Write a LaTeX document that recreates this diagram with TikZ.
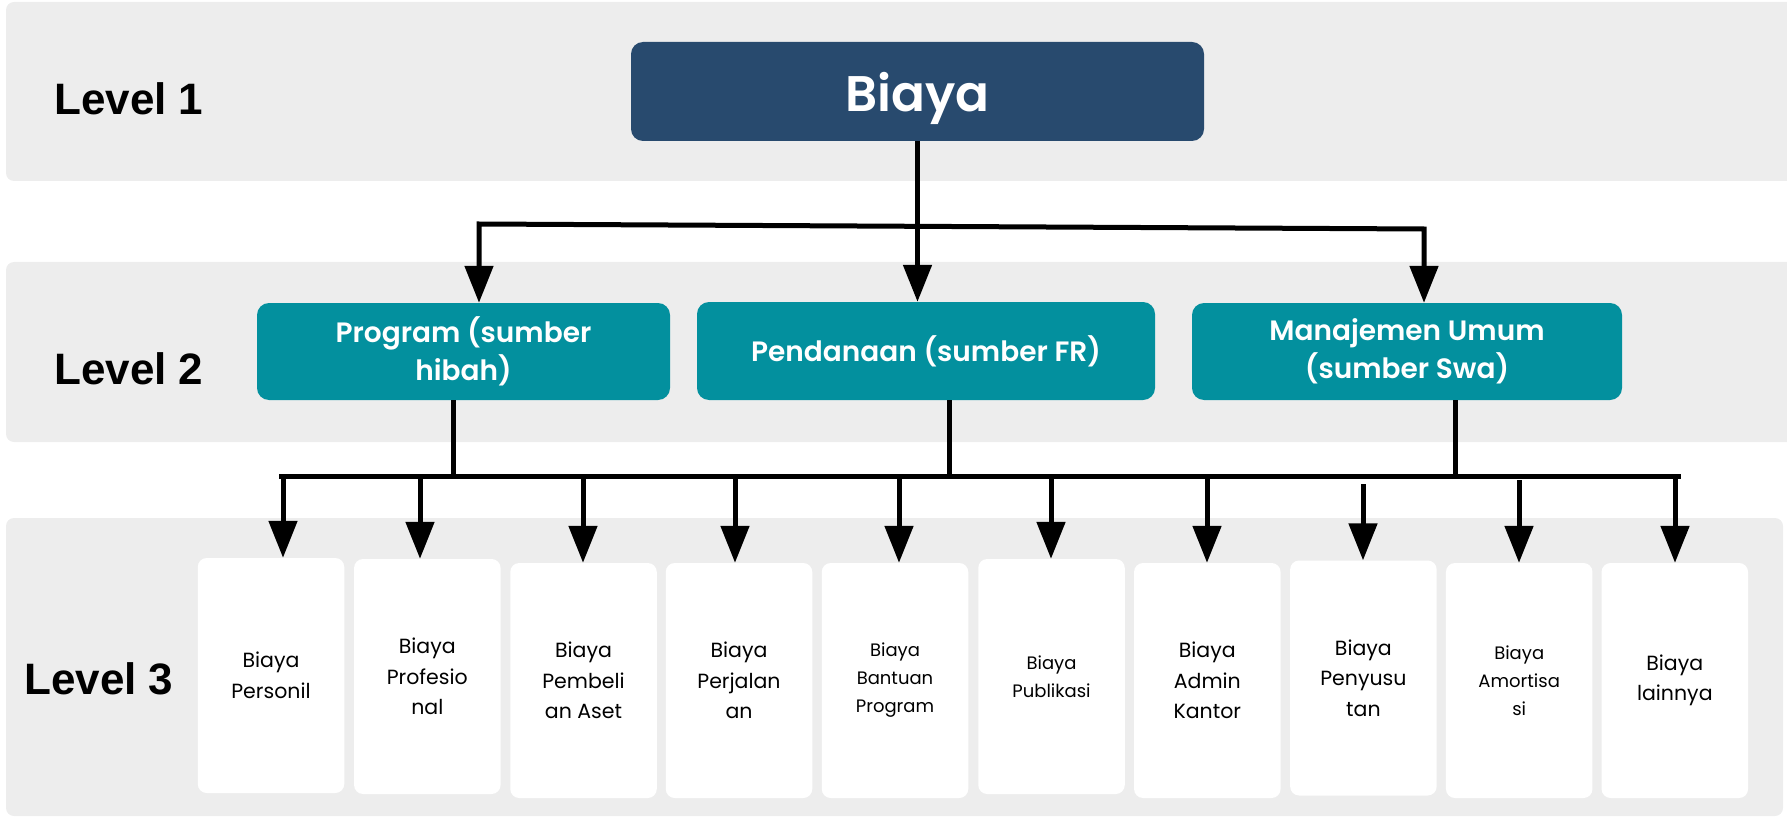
\documentclass[tikz,border=0pt]{standalone}
\usepackage{fontspec}
\setmainfont{Poppins}
\newfontfamily\popsemi{Poppins SemiBold}
\newfontfamily\lvlfont{Liberation Sans}
\usetikzlibrary{arrows.meta}

\definecolor{bandgray}{HTML}{EDEDED}
\definecolor{navybox}{HTML}{284A6E}
\definecolor{tealbox}{HTML}{03909E}

\newcommand\leafnorm{\fontsize{20.5}{30.5}\selectfont}
\newcommand\leafsmall{\fontsize{18}{28}\selectfont}

\tikzset{
  band/.style={fill=bandgray, rounded corners=8pt},
  topbox/.style={fill=navybox, rounded corners=12pt, text=white,
    font=\popsemi\fontsize{50}{60}\selectfont, text depth=0pt,
    minimum width=573pt, minimum height=99pt, inner sep=0pt},
  midbox/.style={fill=tealbox, rounded corners=12pt, text=white, align=center,
    font=\popsemi\fontsize{28}{38.5}\selectfont, inner sep=0pt},
  leafbox/.style={fill=white, rounded corners=9pt, minimum width=146.5pt,
    minimum height=235pt, inner sep=0pt, align=center},
  lvl/.style={anchor=base west, font=\lvlfont\bfseries\fontsize{44}{50}\selectfont, inner sep=0pt},
  link/.style={line width=5pt},
  tipshape/.tip={Triangle[length=37pt, width=28pt]},
  arr/.style={line width=5pt, -tipshape},
}

\begin{document}
\begin{tikzpicture}[x=1pt, y=-1pt]
  \useasboundingbox (0,0) rectangle (1787,818);
  \clip (0,0) rectangle (1787,818);

  % level bands
  \fill[band] (6,2) rectangle (1800,181);
  \fill[band] (6,262) rectangle (1800,442);
  \fill[band] (6,518) rectangle (1783,816);

  % level labels
  \node[lvl] (lv1) at (54,115) {Level 1};
  \node[lvl] (lv2) at (54,384) {Level 2};
  \node[lvl] (lv3) at (24,694) {Level 3};

  % level 1
  \node[topbox] (biaya) at (917.5,91.5) {Biaya};

  % level 2
  \node[midbox, minimum width=413pt, minimum height=97pt] (prog) at (463.5,351.5)
    {Program (sumber\\hibah)};
  \node[midbox, minimum width=458pt, minimum height=98pt] (pend) at (926,351)
    {Pendanaan (sumber FR)};
  \node[midbox, minimum width=430pt, minimum height=97pt] (man) at (1407,351.5)
    {Manajemen Umum\\(sumber Swa)};

  % level 3
  \node[leafbox, font=\leafnorm]  (b1)  at (271,675.5)    {Biaya\\Personil};
  \node[leafbox, font=\leafnorm]  (b2)  at (427.3,676.5)  {Biaya\\Profesio\\nal};
  \node[leafbox, font=\leafnorm]  (b3)  at (583.5,680.5)  {Biaya\\Pembeli\\an Aset};
  \node[leafbox, font=\leafnorm]  (b4)  at (739,680.5)    {Biaya\\Perjalan\\an};
  \node[leafbox, font=\leafsmall] (b5)  at (895,680.5)    {Biaya\\Bantuan\\Program};
  \node[leafbox, font=\leafsmall] (b6)  at (1051.5,676.5) {Biaya\\Publikasi};
  \node[leafbox, font=\leafnorm]  (b7)  at (1207.3,680.5) {Biaya\\Admin\\Kantor};
  \node[leafbox, font=\leafnorm]  (b8)  at (1363.4,678)   {Biaya\\Penyusu\\tan};
  \node[leafbox, font=\leafsmall] (b9)  at (1519.2,680.5) {Biaya\\Amortisa\\si};
  \node[leafbox, font=\leafnorm]  (b10) at (1674.8,680.5) {Biaya\\lainnya};

  % level 1 -> level 2
  \coordinate (tL) at (479,224);
  \coordinate (tR) at (1424,229);
  \draw[link, tipshape-tipshape] (tL |- prog.north) -- (tL) -- (tR) -- (tR |- man.north);
  \draw[arr] (biaya.south) -- (biaya.south |- pend.north);

  % level 2 -> level 3
  \coordinate (barL) at (279,476);
  \coordinate (barR) at (1681,476);
  \coordinate (sP) at (453,479);
  \coordinate (sF) at (949,479);
  \coordinate (sM) at (1455,479);
  \draw[link] (barL) -- (barR);
  \draw[link] (sP |- prog.south) -- (sP);
  \draw[link] (sF |- pend.south) -- (sF);
  \draw[link] (sM |- man.south) -- (sM);

  \foreach \n/\x/\ys in {b1/283/476, b2/420/476, b3/583/476, b4/735/476,
      b5/899/476, b6/1051/476, b7/1207/476, b8/1363/484, b9/1519/480, b10/1675/476}{
    \coordinate (top\n) at (\x,\ys);
    \draw[arr] (top\n) -- (top\n |- \n.north);
  }
\end{tikzpicture}
\end{document}
